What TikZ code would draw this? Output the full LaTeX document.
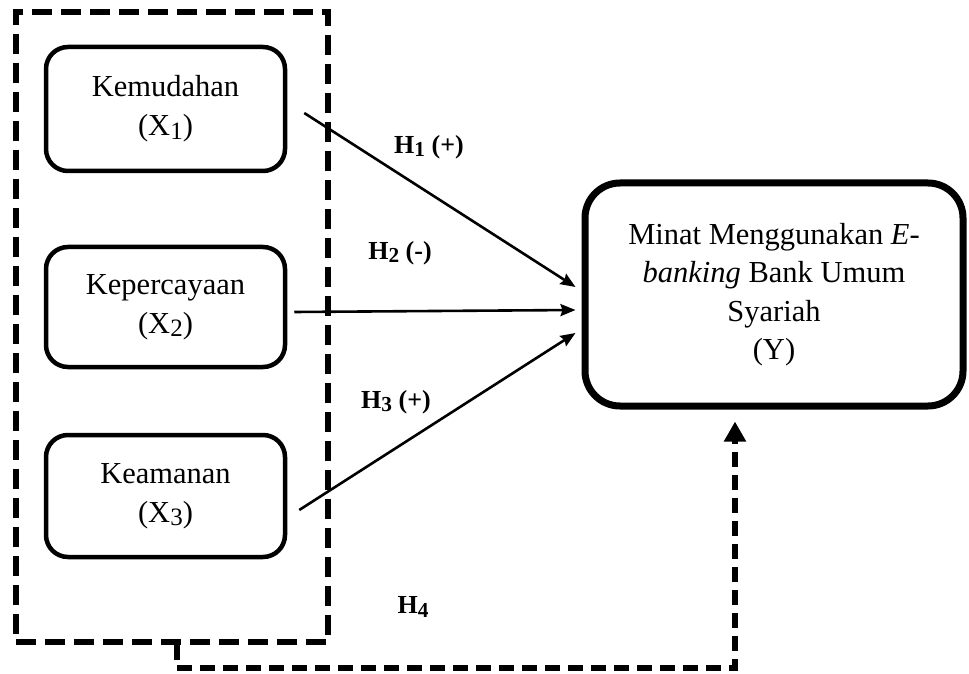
\documentclass[tikz,border=0pt]{standalone}
\usepackage{fontspec}
\setmainfont{Liberation Serif}
\usepackage{graphicx}
\usetikzlibrary{arrows.meta}
\newcommand\lsub[1]{\raisebox{-0.12em}{\scalebox{0.82}{#1}}}
\begin{document}
\begin{tikzpicture}[x=1pt,y=1pt,
  box/.style={draw, line width=4.5pt, rounded corners=22pt, minimum width=239pt,
    align=center, inner sep=0pt, font=\fontsize{30.5}{39}\selectfont},
  ybox/.style={draw, line width=7pt, rounded corners=35pt, minimum width=378pt,
    minimum height=223pt, align=center, inner sep=0pt, font=\fontsize{30.5}{38.5}\selectfont},
  grpbox/.style={draw, line width=6.5pt, dash pattern=on 20pt off 9pt,
    minimum width=312pt, minimum height=630pt, inner sep=0pt},
  arr/.style={line width=2.6pt, -{Stealth[length=15pt,width=12pt,inset=2pt]}},
  fb/.style={line width=6pt, dash pattern=on 15pt off 8pt, -{Triangle[length=20pt,width=21pt]}},
  lab/.style={font=\fontsize{26}{30}\selectfont\bfseries, inner sep=0pt}]
\useasboundingbox (0,0) rectangle (969,673);
\fill[white] (0,0) rectangle (969,673);

\node[grpbox] (grp) at (172,346) {};
\node[box, minimum height=124pt] (k1) at (165.5,564) {Kemudahan\\(X\lsub{1})};
\node[box, minimum height=120pt] (k2) at (165.5,366) {Kepercayaan\\(X\lsub{2})};
\node[box, minimum height=122pt] (k3) at (165.5,177) {Keamanan\\(X\lsub{3})};
\node[ybox] (yb) at (774,378.5) {Minat Menggunakan \textit{E}-\\\textit{banking} Bank Umum\\Syariah\\(Y)};

\draw[arr] ([xshift=17pt,yshift=-4pt]k1.east) -- ([xshift=-6pt,yshift=7.5pt]yb.west);
\draw[arr] ([xshift=7pt,yshift=-5pt]k2.east) -- ([xshift=-6pt,yshift=-15.5pt]yb.west);
\draw[arr] ([xshift=12pt,yshift=-14pt]k3.east) -- ([xshift=-6pt,yshift=-38.5pt]yb.west);

\node[lab] (h1) at (429,526) {H\lsub{1} (+)};
\node[lab] (h2) at (400,420) {H\lsub{2} (-)};
\node[lab] (h3) at (396,271) {H\lsub{3} (+)};
\node[lab] (h4) at (413,66) {H\lsub{4}};

\coordinate (fbc) at (735,5);
\draw[fb] ([xshift=5pt]grp.south) |- (fbc) -- ([xshift=-39pt,yshift=-12pt]yb.south);
\end{tikzpicture}
\end{document}
